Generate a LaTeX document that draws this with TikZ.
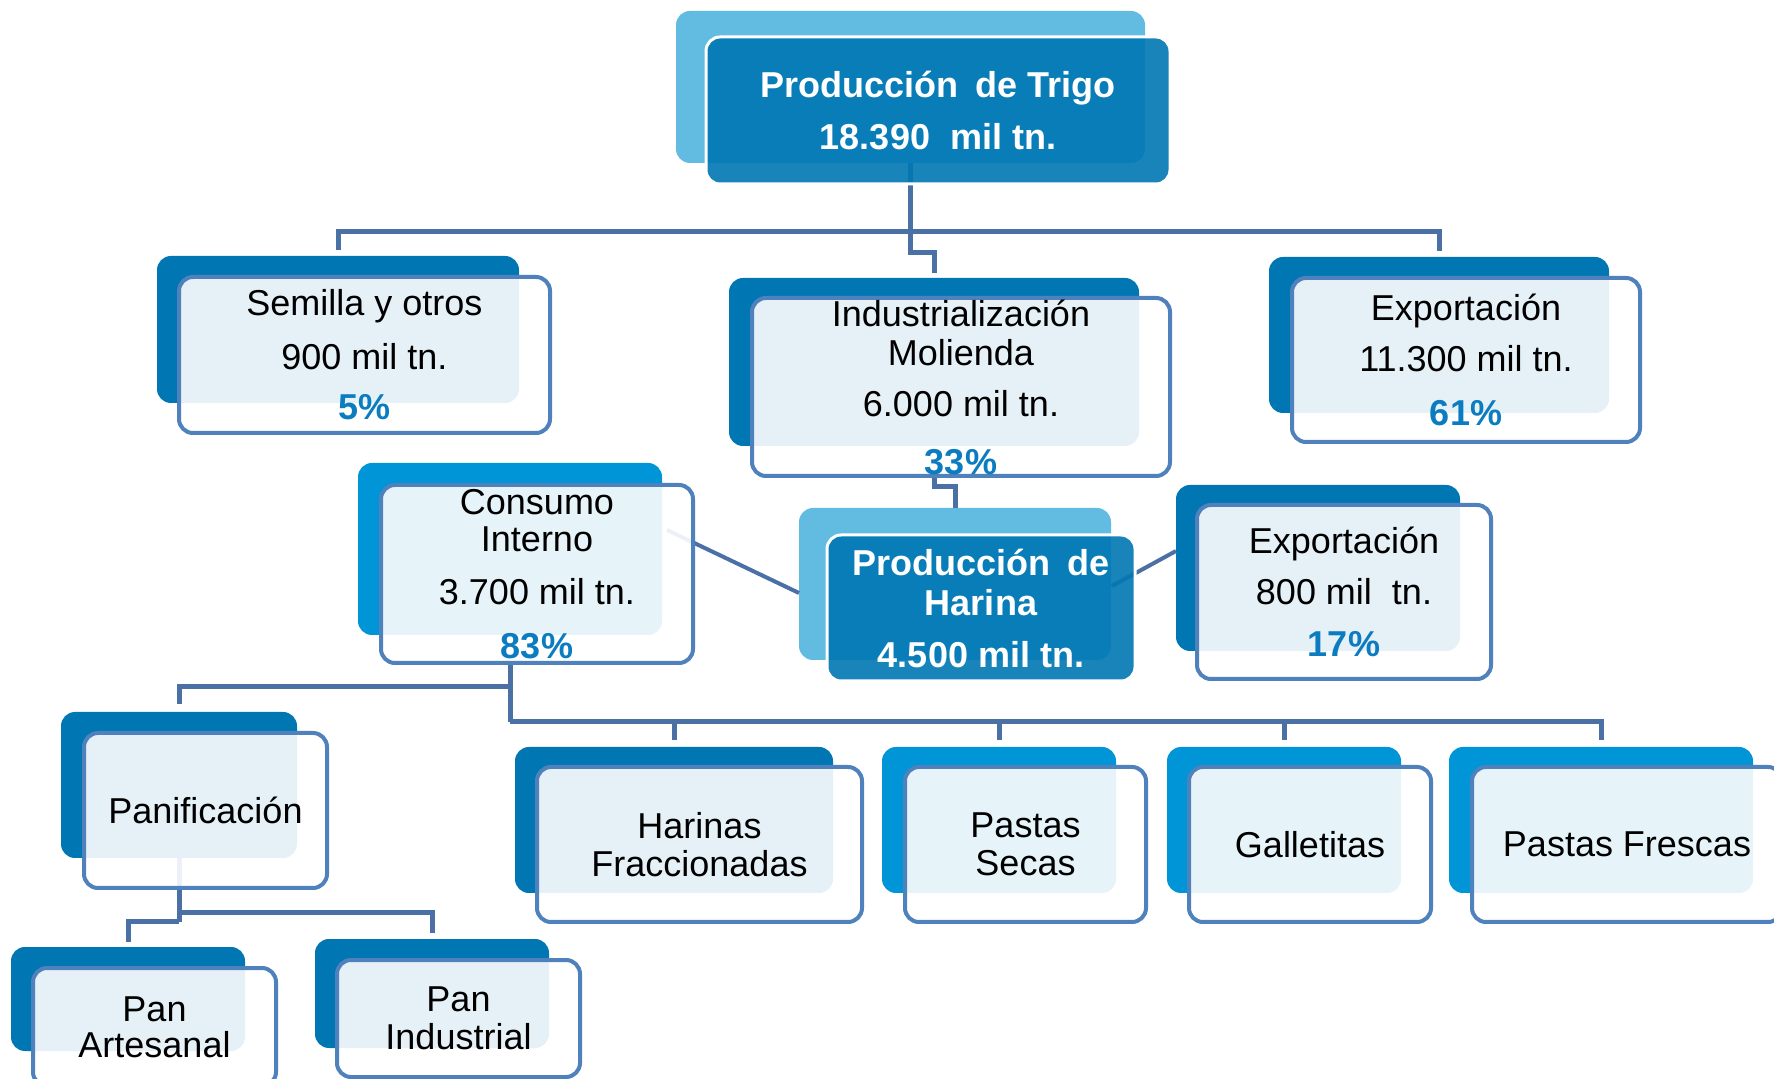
\documentclass[tikz,border=0pt]{standalone}
\usepackage{fontspec}
\setmainfont{Liberation Sans}
\usetikzlibrary{calc}
\definecolor{bkDark}{HTML}{0077B3}
\definecolor{bkMed}{HTML}{0095D6}
\definecolor{bkLight}{HTML}{62BBE0}
\definecolor{outlineC}{HTML}{4F81BD}
\definecolor{connC}{HTML}{4A70A6}
\definecolor{pctC}{HTML}{0B7CC0}
\newcommand\pctx[1]{{\color{pctC}\bfseries #1}}
\begin{document}
\begin{tikzpicture}[x=0.5pt,y=-0.5pt,
  every node/.style={inner sep=0pt, outer sep=0pt},
  sz/.style 2 args={minimum width={#1*0.5pt}, minimum height={#2*0.5pt}},
  backbox/.style={rectangle, rounded corners=7pt, fill=#1},
  frontbox/.style={rectangle, rounded corners=7pt, fill=white, fill opacity=0.9, text opacity=1,
    draw=outlineC, line width=2pt, align=center, text=black,
    font=\fontsize{18pt}{20pt}\selectfont},
  darkfront/.style={rectangle, rounded corners=7pt, fill=bkDark, fill opacity=0.9, text opacity=1,
    draw=white, line width=1.5pt, align=center, text=white,
    font=\fontsize{18pt}{20pt}\selectfont\bfseries},
  conn/.style={draw=connC, line width=2.5pt}]
\useasboundingbox (0,0) rectangle (1774,1079);
\clip (0,0) rectangle (1774,1079);

% ---------- back boxes ----------
\node[backbox=bkLight, sz={469}{152}] (trigoB) at (910.5,87) {};
\node[backbox=bkDark, sz={362}{147}] (semB) at (338,329.5) {};
\node[backbox=bkDark, sz={410}{168}] (indB) at (934,362) {};
\node[backbox=bkDark, sz={340}{156}] (expB) at (1439,335) {};
\node[backbox=bkMed, sz={304}{172}] (conB) at (510,549) {};
\node[backbox=bkLight, sz={312}{152}] (harB) at (955,584) {};
\node[backbox=bkDark, sz={284}{166}] (expoB) at (1318,568) {};
\node[backbox=bkDark, sz={236}{146}] (panB) at (179,785) {};
\node[backbox=bkDark, sz={234}{104}] (paB) at (128,999) {};
\node[backbox=bkDark, sz={234}{109}] (piB) at (432,993.5) {};
\node[backbox=bkDark, sz={318}{146}] (hfB) at (674,820) {};
\node[backbox=bkMed, sz={234}{146}] (psB) at (999,820) {};
\node[backbox=bkMed, sz={234}{146}] (gaB) at (1284,820) {};
\node[backbox=bkMed, sz={304}{146}] (pfB) at (1601,820) {};

% ---------- connectors ----------
\draw[conn] (trigoB.south) -- ++(0,69) coordinate (tj);
\draw[conn, shorten >=3pt] (tj) -| (semB.north);
\draw[conn, shorten >=3pt] (tj) -| (expB.north);
\draw[conn, shorten >=2.5pt] (tj) -- ++(0,21) -| (indB.north);
\draw[conn] (indB.south |- 0,476) -- ++(0,11) -| (harB.north);
\draw[conn, line width=2pt] ($(harB.west)+(0,9)$) -- ($(conB.east)+(5,-19)$);
\draw[conn, line width=2pt] ($(harB.east)+(1,2)$) -- ($(expoB.west)+(0,-17)$);
\draw[conn] (conB.south |- 0,663) -- ++(0,24) coordinate (cj) -- ++(0,35) coordinate (cj2);
\draw[conn, shorten >=4pt] (cj) -| (panB.north);
\draw[conn, shorten >=3.5pt] (cj2) -| (hfB.north);
\draw[conn, shorten >=3.5pt] (cj2) -| (psB.north);
\draw[conn, shorten >=3.5pt] (cj2) -| (gaB.north);
\draw[conn, shorten >=3.5pt] (cj2) -| (pfB.north);
\draw[conn] (panB.south) -- ++(0,55) coordinate (pj) -- ++(0,9) coordinate (pj2);
\draw[conn, shorten >=3pt] (pj) -| (piB.north);
\draw[conn, shorten >=2.5pt] (pj2) -| (paB.north);

% ---------- front boxes ----------
\node[darkfront, sz={464}{147}] (trigo) at (938,110.5)
  {Producción\hspace{0.45em}de Trigo\\[6pt]18.390\ \ mil tn.};
\node[frontbox, sz={371}{156}] (sem) at (364.5,355)
  {Semilla y otros\\[7pt]900 mil tn.\\[5pt]\pctx{5\%}};
\node[frontbox, sz={418}{178}] (ind) at (961,387)
  {Industrialización\\[-0.5pt]Molienda\\[5.5pt]6.000 mil tn.\\[9pt]\pctx{33\%}};
\node[frontbox, sz={348}{164}] (exp) at (1466,360)
  {Exportación\\[5.5pt]11.300 mil tn.\\[7pt]\pctx{61\%}};
\node[frontbox, sz={312}{178}] (con) at (537,574)
  {Consumo\\[-1.5pt]Interno\\[6.5pt]3.700 mil tn.\\[7pt]\pctx{83\%}};
\node[darkfront, sz={308}{146}] (har) at (981,608)
  {Producción\hspace{0.45em}de\\[0pt]Harina\\[6pt]4.500 mil tn.};
\node[frontbox, sz={294}{174}] (expo) at (1344,592)
  {Exportación\\[5.5pt]800 mil\ \ tn.\\[6pt]\pctx{17\%}};
\node[frontbox, sz={243}{155}] (pan) at (205.5,810.5) {Panificación};
\node[frontbox, sz={243}{118}] (pa) at (154.5,1027) {Pan\\[-2pt]Artesanal};
\node[frontbox, sz={243}{117}] (pi) at (458.5,1018.5) {Pan\\[-1pt]Industrial};
\node[frontbox, sz={325}{155}] (hf) at (699.5,844.5) {Harinas\\[-1pt]Fraccionadas};
\node[frontbox, sz={241}{155}] (ps) at (1025.5,844.5) {Pastas\\[-1pt]Secas};
\node[frontbox, sz={242}{155}] (ga) at (1310,844.5) {Galletitas};
\node[frontbox, sz={310}{155}] (pf) at (1627,844.5) {Pastas Frescas};
\end{tikzpicture}
\end{document}
